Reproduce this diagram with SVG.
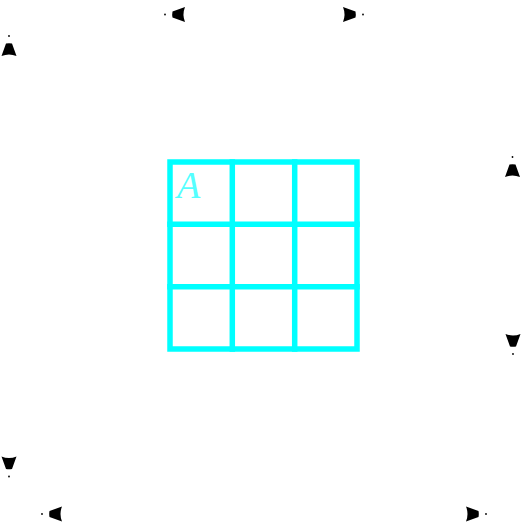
<svg xmlns="http://www.w3.org/2000/svg" xmlns:xlink="http://www.w3.org/1999/xlink" width="527" height="525" viewBox="0 0 527 525">
  <style>
    .grid { fill: none; stroke: #00ffff; stroke-width: 5.5; stroke-linecap: square; stroke-linejoin: miter; }
    .label { font-family: "Liberation Serif", "Times New Roman", serif; font-style: italic; font-size: 38px; fill: #55ffff; }
    .tip { fill: #000000; }
  </style>
  <defs>
    <g id="arrow">
      <path class="tip" d="M0,-3 L-12.5,-7.5 Q-9.5,0 -12.5,7.5 L0,3 Q0.6,0 0,-3 Z"/>
      <circle class="tip" cx="7.5" cy="0" r="0.9"/>
    </g>
  </defs>
  <rect width="527" height="525" fill="#ffffff"/>
  <g id="grid-node">
    <rect class="grid" x="170" y="162" width="187" height="187"/>
    <line class="grid" x1="232.3" y1="162" x2="232.3" y2="349"/>
    <line class="grid" x1="294.7" y1="162" x2="294.7" y2="349"/>
    <line class="grid" x1="170" y1="224.3" x2="357" y2="224.3"/>
    <line class="grid" x1="170" y1="286.7" x2="357" y2="286.7"/>
    <text class="label" x="177" y="197.5">A</text>
  </g>
  <g id="connectors">
    <use xlink:href="#arrow" transform="translate(172.5,14.5) rotate(180)"/>
    <use xlink:href="#arrow" transform="translate(355.5,14.5)"/>
    <use xlink:href="#arrow" transform="translate(9,43.5) rotate(-90)"/>
    <use xlink:href="#arrow" transform="translate(512.5,164.5) rotate(-90)"/>
    <use xlink:href="#arrow" transform="translate(513,346.5) rotate(90)"/>
    <use xlink:href="#arrow" transform="translate(9,469) rotate(90)"/>
    <use xlink:href="#arrow" transform="translate(49.5,514) rotate(180)"/>
    <use xlink:href="#arrow" transform="translate(478.5,514)"/>
  </g>
</svg>
